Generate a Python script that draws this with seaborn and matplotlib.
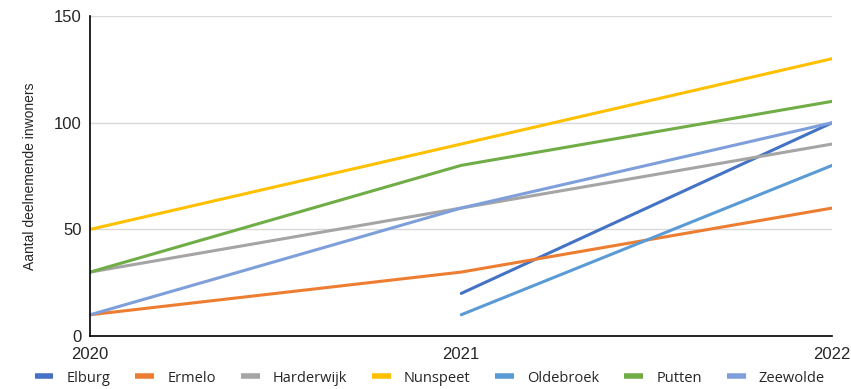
import pandas as pd
import numpy as np
import matplotlib
matplotlib.use('Agg')
import matplotlib.pyplot as plt
import seaborn as sns

# jaren en deelnemers per gemeente
jaren = [2020, 2021, 2022]
elburg = [np.nan, 20, 100]
ermelo = [10, 30, 60]
harderwijk = [30, 60, 90]
nunspeet = [50, 90, 130]
oldebroek = [np.nan, 10, 80]
putten = [30, 80, 110]
zeewolde = [10, 60, 100]

gemeenten = ['Elburg', 'Ermelo', 'Harderwijk', 'Nunspeet', 'Oldebroek', 'Putten', 'Zeewolde']
kleuren = ['#4472C4', '#ED7D31', '#A5A5A5', '#FFC000', '#5B9BD5', '#70AD47', '#7F9FDB']

waarden = [elburg, ermelo, harderwijk, nunspeet, oldebroek, putten, zeewolde]
df = pd.DataFrame({
    'jaar': jaren * len(gemeenten),
    'gemeente': [g for g in gemeenten for _ in jaren],
    'aantal': [v for rij in waarden for v in rij],
}).dropna()

sns.set_style('white')
plt.rcParams['font.family'] = ['Liberation Sans', 'DejaVu Sans']

fig = plt.figure(figsize=(8.51, 3.89), dpi=100)
ax = fig.add_axes([0.106, 0.136, 0.872, 0.823])

sns.lineplot(data=df, x='jaar', y='aantal', hue='gemeente', hue_order=gemeenten,
             palette=kleuren, linewidth=2.2, ax=ax, legend=False)

ax.set_xlim(2020, 2022)
ax.set_ylim(0, 150)
ax.set_xticks(jaren)
ax.set_xticklabels([str(j) for j in jaren], fontsize=12)
ax.set_yticks([0, 50, 100, 150])
ax.set_yticklabels(['0', '50', '100', '150'], fontsize=12)
ax.tick_params(axis='x', length=0, pad=8)
ax.tick_params(axis='y', length=0, pad=6)
ax.yaxis.grid(True, color='#D9D9D9', linewidth=1)
ax.set_axisbelow(True)
for side in ['top', 'right']:
    ax.spines[side].set_visible(False)
ax.spines['left'].set_color('black')
ax.spines['bottom'].set_color('black')
ax.spines['left'].set_linewidth(1.2)
ax.spines['bottom'].set_linewidth(1.2)
ax.set_xlabel('')
ax.set_ylabel('Aantal deelnemende inwoners', fontsize=10, labelpad=12)

handles = [plt.Line2D([0], [0], color=c, linewidth=4, solid_capstyle='butt') for c in kleuren]
fig.legend(handles, gemeenten, loc='lower center', ncol=7, frameon=False,
           bbox_to_anchor=(0.505, -0.025), handlelength=1.3, handletextpad=0.9,
           columnspacing=1.7, prop={'family': 'Open Sans', 'size': 10.5})

fig.savefig('out.png', dpi=100)
